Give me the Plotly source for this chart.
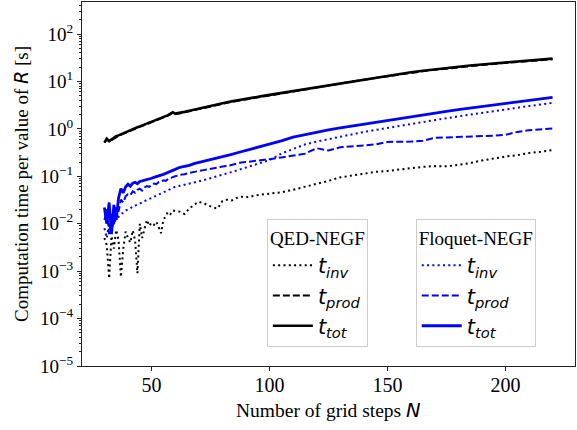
import plotly.graph_objects as go

# Grid steps N
N = [30, 31, 32, 33, 34, 35, 36, 37, 38, 39, 40, 41, 42, 43, 44, 45, 46, 47, 48, 49,
     50, 51, 52, 53, 54, 55, 56, 57, 58, 59, 60,
     62, 64, 66, 68, 70, 72, 74, 76, 78, 80, 82, 84, 86, 88, 90, 92, 94, 96, 98, 100,
     105, 110, 115, 120, 125, 130, 135, 140, 145, 150, 155, 160, 165, 170, 175, 180,
     185, 190, 195, 200, 205, 210, 215, 220]

# QED-NEGF timings [s]
qed_inv = [0.0050, 0.0035, 0.0007, 0.0055, 0.0030, 0.0074, 0.0045, 0.00075, 0.0030, 0.0068,
           0.0050, 0.0040, 0.0072, 0.0045, 0.0009, 0.0100, 0.0050, 0.0080, 0.0120, 0.0090,
           0.0105, 0.0095, 0.0110, 0.0085, 0.0063, 0.0120, 0.0150, 0.0178, 0.0160, 0.0190, 0.0185,
           0.018, 0.016, 0.021, 0.025, 0.029, 0.027, 0.024, 0.022, 0.021, 0.030,
           0.032, 0.031, 0.035, 0.037, 0.036, 0.038, 0.040, 0.041, 0.042, 0.043,
           0.046, 0.052, 0.060, 0.068, 0.080, 0.095, 0.105, 0.115, 0.124, 0.130, 0.140, 0.150,
           0.158, 0.164, 0.162, 0.175, 0.190, 0.215, 0.240, 0.260, 0.280, 0.310, 0.330, 0.357]
qed_prod = [0.51, 0.60, 0.54, 0.58, 0.63, 0.68, 0.71, 0.75, 0.79, 0.83,
            0.88, 0.92, 0.96, 1.00, 1.05, 1.10, 1.15, 1.20, 1.26, 1.32,
            1.38, 1.44, 1.50, 1.56, 1.62, 1.70, 1.78, 1.90, 2.05, 2.20, 2.05,
            2.10, 2.22, 2.35, 2.48, 2.62, 2.76, 2.90, 3.06, 3.22, 3.38,
            3.55, 3.72, 3.88, 4.05, 4.20, 4.38, 4.55, 4.72, 4.90, 5.05,
            5.55, 6.15, 6.80, 7.50, 8.25, 9.05, 9.95, 10.9, 11.9, 12.9, 14.0, 15.2,
            16.4, 17.6, 18.8, 19.9, 21.0, 22.2, 23.4, 24.6, 25.8, 27.0, 28.2, 29.4]
qed_tot = [0.52, 0.62, 0.55, 0.60, 0.65, 0.70, 0.73, 0.77, 0.81, 0.85,
           0.90, 0.94, 0.98, 1.03, 1.08, 1.13, 1.18, 1.24, 1.30, 1.36,
           1.42, 1.48, 1.54, 1.60, 1.66, 1.74, 1.82, 1.95, 2.10, 2.25, 2.10,
           2.15, 2.28, 2.40, 2.54, 2.68, 2.82, 2.97, 3.13, 3.30, 3.46,
           3.63, 3.80, 3.97, 4.15, 4.30, 4.48, 4.66, 4.84, 5.02, 5.20,
           5.70, 6.30, 6.95, 7.65, 8.45, 9.25, 10.2, 11.2, 12.2, 13.3, 14.4, 15.6,
           16.8, 18.0, 19.2, 20.4, 21.6, 22.8, 24.0, 25.2, 26.4, 27.7, 28.9, 30.3]

# Floquet-NEGF timings [s]
flo_inv = [0.008, 0.005, 0.010, 0.007, 0.011, 0.012, 0.014, 0.016, 0.017, 0.019,
           0.020, 0.021, 0.023, 0.024, 0.026, 0.027, 0.028, 0.030, 0.032, 0.034,
           0.035, 0.037, 0.039, 0.041, 0.043, 0.045, 0.047, 0.050, 0.053, 0.056, 0.060,
           0.063, 0.066, 0.070, 0.074, 0.078, 0.083, 0.088, 0.094, 0.100, 0.107,
           0.115, 0.123, 0.132, 0.142, 0.153, 0.165, 0.178, 0.190, 0.205, 0.220,
           0.300, 0.380, 0.470, 0.540, 0.610, 0.690, 0.770, 0.860, 0.950, 1.05, 1.15, 1.27,
           1.40, 1.53, 1.68, 1.83, 2.00, 2.18, 2.38, 2.58, 2.80, 3.03, 3.27, 3.52]
flo_prod = [0.012, 0.020, 0.006, 0.016, 0.009, 0.022, 0.018, 0.032, 0.028, 0.038,
            0.042, 0.040, 0.048, 0.045, 0.052, 0.055, 0.050, 0.058, 0.062, 0.060,
            0.066, 0.070, 0.068, 0.075, 0.078, 0.082, 0.080, 0.088, 0.092, 0.097, 0.100,
            0.107, 0.110, 0.118, 0.125, 0.130, 0.135, 0.140, 0.148, 0.155, 0.160,
            0.165, 0.175, 0.185, 0.195, 0.200, 0.205, 0.210, 0.220, 0.225, 0.230,
            0.250, 0.270, 0.300, 0.390, 0.350, 0.410, 0.430, 0.450, 0.470, 0.530, 0.530, 0.540,
            0.560, 0.650, 0.660, 0.670, 0.680, 0.700, 0.720, 0.750, 0.860, 0.930, 0.970, 1.02]
flo_tot = [0.022, 0.010, 0.028, 0.006, 0.025, 0.012, 0.035, 0.055, 0.045, 0.060,
           0.068, 0.062, 0.072, 0.075, 0.070, 0.078, 0.080, 0.082, 0.085, 0.088,
           0.091, 0.095, 0.098, 0.100, 0.105, 0.110, 0.115, 0.120, 0.125, 0.135, 0.140,
           0.155, 0.160, 0.170, 0.185, 0.195, 0.205, 0.215, 0.230, 0.245, 0.260,
           0.275, 0.290, 0.310, 0.330, 0.350, 0.370, 0.390, 0.420, 0.440, 0.470,
           0.560, 0.670, 0.760, 0.840, 0.950, 1.05, 1.15, 1.28, 1.40, 1.53, 1.67, 1.82,
           1.98, 2.15, 2.35, 2.55, 2.75, 2.97, 3.20, 3.45, 3.70, 3.98, 4.28, 4.60]

x_tickvals = [50, 100, 150, 200]
y_tickvals = [1e-5, 1e-4, 1e-3, 1e-2, 1e-1, 1e0, 1e1, 1e2]
y_ticktext = ["10<sup>−5</sup>", "10<sup>−4</sup>", "10<sup>−3</sup>", "10<sup>−2</sup>",
              "10<sup>−1</sup>", "10<sup>0</sup>", "10<sup>1</sup>", "10<sup>2</sup>"]

BLUE = "#0000ff"
SERIF = "Liberation Serif"
SANS = "DejaVu Sans"

def lab(sub):
    return f"<i>t</i><sub><i>{sub}</i></sub>"

fig = go.Figure()
specs = [
    (qed_inv, "black", "2px,3.3px", 2.0, "inv", "legend"),
    (qed_prod, "black", "7px,3px", 2.0, "prod", "legend"),
    (qed_tot, "black", "solid", 2.6, "tot", "legend"),
    (flo_inv, BLUE, "2px,3.3px", 2.0, "inv", "legend2"),
    (flo_prod, BLUE, "7px,3px", 2.0, "prod", "legend2"),
    (flo_tot, BLUE, "solid", 2.8, "tot", "legend2"),
]
for ys, col, dash, w, sub, lg in specs:
    fig.add_trace(go.Scatter(x=N, y=ys, mode="lines", name=lab(sub),
                             line=dict(color=col, dash=dash, width=w),
                             legend=lg))

axis_common = dict(showline=True, linecolor="#222", linewidth=1, mirror=True,
                   ticks="outside", ticklen=4, tickcolor="#222", showgrid=False,
                   zeroline=False, automargin=False)

fig.update_xaxes(range=[20.5, 229.5], tickvals=x_tickvals,
                 tickfont=dict(family=SERIF, size=20, color="black"),
                 ticklabelstandoff=-3,
                 **axis_common)
fig.update_yaxes(type="log", range=[-5, 2.675], tickvals=y_tickvals, ticktext=y_ticktext,
                 tickfont=dict(family=SERIF, size=19, color="black"),
                 minor=dict(ticks="outside", ticklen=2, tickcolor="#222", dtick="D1"),
                 title=dict(text=f"Computation time per value of <i><span style='font-family:{SANS}'>R</span></i> [s]",
                            font=dict(family=SERIF, size=19, color="black"), standoff=6),
                 **axis_common)

fig.add_annotation(text=f"Number of grid steps <i><span style='font-family:{SANS}'>N</span></i>",
                   xref="paper", yref="paper", x=0.5, y=0, xanchor="center", yanchor="middle",
                   yshift=-44, showarrow=False,
                   font=dict(family=SERIF, size=19.5, color="black"))

leg_common = dict(bgcolor="rgba(255,255,255,0.85)", bordercolor="#cccccc", borderwidth=1,
                  font=dict(family=SANS, size=21, color="black"),
                  xanchor="left", yanchor="top", tracegroupgap=0, itemwidth=40)
fig.update_layout(
    width=577, height=430,
    margin=dict(l=82, r=2, t=2, b=64),
    plot_bgcolor="white", paper_bgcolor="white",
    legend=dict(x=0.375, y=0.403,
                title=dict(text="QED-NEGF", font=dict(family=SERIF, size=19, color="black"), side="top"),
                **leg_common),
    legend2=dict(x=0.677, y=0.403,
                 title=dict(text="Floquet-NEGF", font=dict(family=SERIF, size=19, color="black"), side="top"),
                 **leg_common),
)

fig.write_html("out.html", config={"displayModeBar": False},
               post_script="document.body.style.margin='0px';")
